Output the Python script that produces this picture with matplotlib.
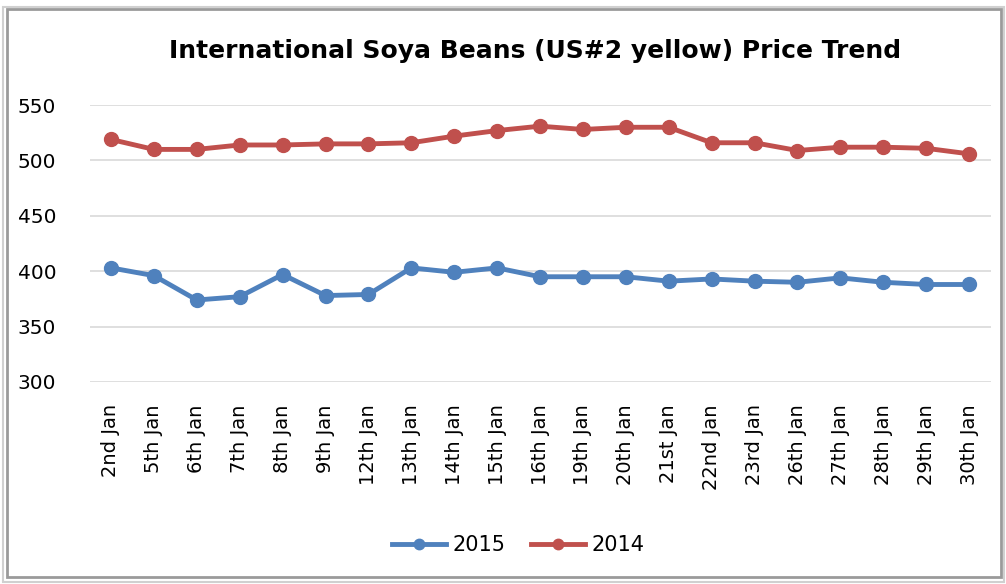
import matplotlib
matplotlib.use("Agg")
import matplotlib.pyplot as plt
from matplotlib.patches import Rectangle

dates = ["2nd Jan", "5th Jan", "6th Jan", "7th Jan", "8th Jan", "9th Jan",
         "12th Jan", "13th Jan", "14th Jan", "15th Jan", "16th Jan", "19th Jan",
         "20th Jan", "21st Jan", "22nd Jan", "23rd Jan", "26th Jan", "27th Jan",
         "28th Jan", "29th Jan", "30th Jan"]

price_2015 = [403, 396, 374, 377, 397, 378, 379, 403, 399, 403, 395, 395,
              395, 391, 393, 391, 390, 394, 390, 388, 388]
price_2014 = [519, 510, 510, 514, 514, 515, 515, 516, 522, 527, 531, 528,
              530, 530, 516, 516, 509, 512, 512, 511, 506]

y_ticks = [300, 350, 400, 450, 500, 550]

fig = plt.figure(figsize=(10.06, 5.84), dpi=100)
fig.patch.set_facecolor("white")

# chart frame (excel-like border with soft shadow)
fig.patches.append(Rectangle((0.007, 0.012), 0.988, 0.973, transform=fig.transFigure,
                             fill=False, edgecolor="#9a9a9a", lw=2.0))
fig.patches.append(Rectangle((0.003, 0.004), 0.995, 0.984, transform=fig.transFigure,
                             fill=False, edgecolor="#d0d0d0", lw=1.5))

ax = fig.add_axes([0.089, 0.346, 0.8956, 0.474])
x = list(range(len(dates)))
ax.plot(x, price_2015, color="#4F81BD", lw=3.5, marker="o", ms=10,
        label="2015", zorder=3)
ax.plot(x, price_2014, color="#C0504D", lw=3.5, marker="o", ms=10,
        label="2014", zorder=3)

ax.set_xlim(-0.5, len(dates) - 0.5)
ax.set_ylim(300, 550)
ax.set_yticks(y_ticks)
ax.set_xticks(x)
ax.set_xticklabels(dates, rotation=90, fontsize=14)
ax.tick_params(axis="y", labelsize=14.5, length=0, pad=24)
ax.tick_params(axis="x", length=0, pad=16)
ax.grid(axis="y", color="#d9d9d9", lw=1.2)
ax.set_axisbelow(True)
for s in ax.spines.values():
    s.set_visible(False)

fig.text(0.532, 0.912, "International Soya Beans (US#2 yellow) Price Trend",
         ha="center", va="center", fontsize=18, fontweight="bold")

fig.legend(loc="center", bbox_to_anchor=(0.515, 0.067), ncol=2, frameon=False,
           fontsize=15, handlelength=2.6, handletextpad=0.3, columnspacing=1.2,
           markerscale=0.75)

fig.savefig("out.png", dpi=100)
